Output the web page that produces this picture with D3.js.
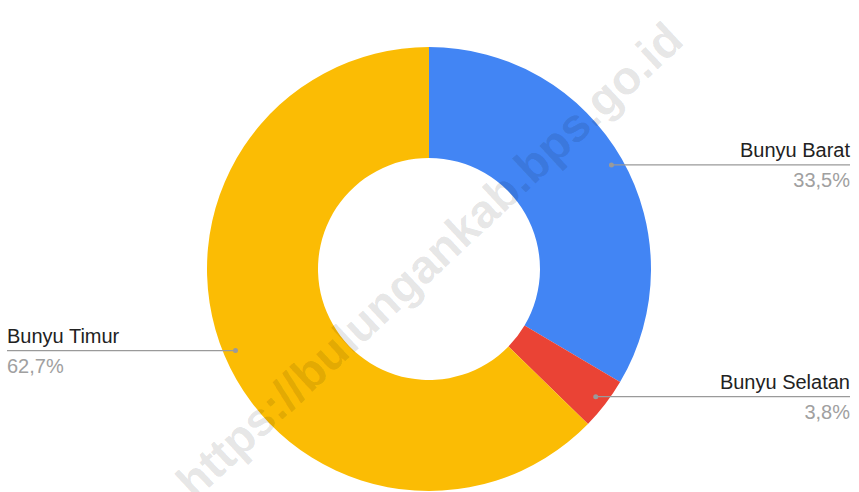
<!DOCTYPE html>
<html>
<head>
<meta charset="utf-8">
<script src="https://cdn.jsdelivr.net/npm/d3@7"></script>
<style>
  html, body { margin: 0; padding: 0; background: #fff; }
  svg { display: block; }
</style>
</head>
<body>
<svg id="chart" width="859" height="492"></svg>
<script>
const categories = ["Bunyu Barat", "Bunyu Selatan", "Bunyu Timur"];
const values = [33.5, 3.8, 62.7];
const valueLabels = ["33,5%", "3,8%", "62,7%"];
const colors = ["#4285F4", "#EA4335", "#FBBC04"];
const watermark = "https://bulungankab.bps.go.id";

const W = 859, H = 492;
const cx = 429, cy = 269, outerR = 222, innerR = 111, dotR = 210;
const svg = d3.select("#chart");
const g = svg.append("g").attr("transform", `translate(${cx},${cy})`);

const data = categories.map((c, i) => ({ name: c, value: values[i], label: valueLabels[i], color: colors[i] }));
const pie = d3.pie().value(d => d.value).sort(null);
const arcs = pie(data);
const arc = d3.arc().innerRadius(innerR).outerRadius(outerR);
const dotArc = d3.arc().innerRadius(dotR).outerRadius(dotR);

g.selectAll("path.slice").data(arcs).enter().append("path")
  .attr("class", "slice")
  .attr("d", arc)
  .attr("fill", d => d.data.color);

const font = "'Liberation Sans', Arial, sans-serif";
arcs.forEach(a => {
  const [px, py] = dotArc.centroid(a);
  const mid = (a.startAngle + a.endAngle) / 2;
  const right = Math.sin(mid) >= 0;
  const xEnd = right ? 850 - cx : 7 - cx;
  g.append("line")
    .attr("x1", px).attr("y1", py).attr("x2", xEnd).attr("y2", py)
    .attr("stroke", "#9a9a9a").attr("stroke-width", 1.3);
  g.append("circle").attr("cx", px).attr("cy", py).attr("r", 2.5).attr("fill", "#9a9a9a");
  g.append("text")
    .attr("x", xEnd).attr("y", py - 8)
    .attr("text-anchor", right ? "end" : "start")
    .attr("font-family", font).attr("font-size", 20).attr("fill", "#222")
    .text(a.data.name);
  g.append("text")
    .attr("x", xEnd).attr("y", py + 22)
    .attr("text-anchor", right ? "end" : "start")
    .attr("font-family", font).attr("font-size", 20).attr("fill", "#a0a0a0")
    .text(a.data.label);
});

svg.append("text")
  .attr("transform", `translate(432,263) rotate(-43)`)
  .attr("text-anchor", "middle")
  .attr("dominant-baseline", "middle")
  .attr("font-family", font).attr("font-weight", "bold").attr("font-size", 47)
  .attr("fill", "#000").attr("fill-opacity", 0.11)
  .text(watermark);
</script>
</body>
</html>
